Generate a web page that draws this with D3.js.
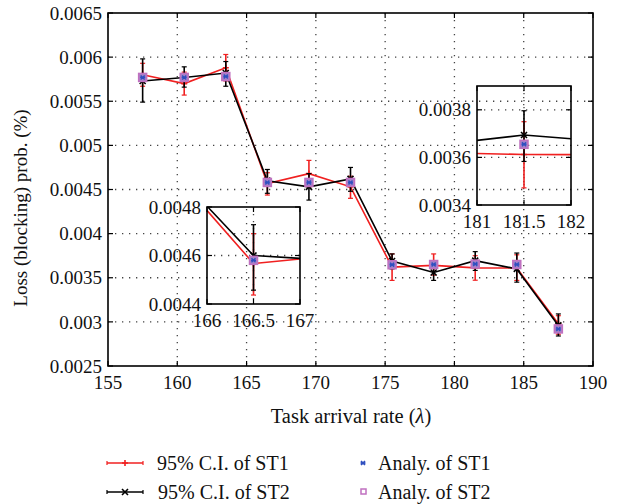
<!DOCTYPE html>
<html><head><meta charset="utf-8">
<script src="https://cdn.jsdelivr.net/npm/d3@7"></script>
<style>
body{margin:0;background:#fff;}
text{font-family:"Liberation Serif","DejaVu Serif",serif;fill:#111;}
</style></head>
<body><svg id="c" width="633" height="504"></svg>
<script>
const rates = [157.5,160.5,163.5,166.5,169.5,172.5,175.5,178.5,181.5,184.5,187.5];
const st1 = [0.0058,0.0057,0.00588,0.004567,0.00468,0.00453,0.00362,0.00364,0.003612,0.00361,0.00298];
const st1Lo = [0.00567,0.00557,0.00573,0.004437,0.00453,0.0044,0.00347,0.00353,0.003472,0.00347,0.00286];
const st1Hi = [0.00593,0.00583,0.00603,0.00469,0.00483,0.00465,0.00377,0.00377,0.00375,0.00376,0.00307];
const st2 = [0.00573,0.00577,0.00582,0.0046,0.00453,0.00462,0.00369,0.00356,0.003694,0.0036,0.00296];
const st2Lo = [0.00549,0.00566,0.00567,0.004457,0.00438,0.00448,0.0036,0.00347,0.003583,0.00345,0.00284];
const st2Hi = [0.00598,0.00589,0.00595,0.004727,0.00468,0.00475,0.00377,0.00365,0.003796,0.00378,0.00309];
const analy1 = [0.00577,0.00577,0.00578,0.00458,0.00458,0.00458,0.003647,0.00365,0.003655,0.00365,0.00292];
const analy2 = [0.00577,0.00577,0.00578,0.00458,0.00458,0.00458,0.003647,0.00365,0.003655,0.00365,0.00292];
const xTicks = [155,160,165,170,175,180,185,190];
const yTicks = [0.0025,0.003,0.0035,0.004,0.0045,0.005,0.0055,0.006,0.0065];
const inset1X = [166,166.5,167], inset1Y = [0.0044,0.0046,0.0048];
const inset2X = [181,181.5,182], inset2Y = [0.0034,0.0036,0.0038];

const RED = "#f02020", BLACK = "#000", BLUE = "#3050c0", PINK = "#c070c0";
const svg = d3.select("#c");
const fmtY = d => String(+d.toPrecision(4));
const fmtX = d => String(d);
const FS = 19;

function panel(g, x0, x1, y0, y1, xdom, ydom, xt, yt, xGrid, yGrid, id) {
  const x = d3.scaleLinear().domain(xdom).range([x0, x1]);
  const y = d3.scaleLinear().domain(ydom).range([y1, y0]);
  const gg = g.append("g").attr("stroke", "#444").attr("stroke-width", 1.3).attr("stroke-dasharray", "1.3,5.7");
  xGrid.forEach(v => gg.append("line").attr("x1", x(v)).attr("x2", x(v)).attr("y1", y0).attr("y2", y1));
  yGrid.forEach(v => gg.append("line").attr("x1", x0).attr("x2", x1).attr("y1", y(v)).attr("y2", y(v)));
  svg.append("clipPath").attr("id", id).append("rect").attr("x", x0).attr("y", y0).attr("width", x1 - x0).attr("height", y1 - y0);
  const d = g.append("g").attr("clip-path", `url(#${id})`);
  const idx = d3.range(rates.length);
  const line = arr => d3.line().x(i => x(rates[i])).y(i => y(arr[i]))(idx);
  const cap = 2.5;
  function series(vals, lo, hi, col, mk) {
    d.append("path").attr("d", line(vals)).attr("fill", "none").attr("stroke", col).attr("stroke-width", 1.6);
    idx.forEach(i => {
      const cx = x(rates[i]);
      d.append("line").attr("x1", cx).attr("x2", cx).attr("y1", y(lo[i])).attr("y2", y(hi[i])).attr("stroke", col).attr("stroke-width", 1.6);
      [lo[i], hi[i]].forEach(v => d.append("line").attr("x1", cx - cap).attr("x2", cx + cap).attr("y1", y(v)).attr("y2", y(v)).attr("stroke", col).attr("stroke-width", 1.2));
      const cy = y(vals[i]);
      d.append("path").attr("d", mk(cx, cy)).attr("stroke", col).attr("stroke-width", 1.6).attr("fill", "none");
    });
  }
  const plus = (cx, cy) => `M${cx-3},${cy}H${cx+3}M${cx},${cy-3}V${cy+3}`;
  const cross = (cx, cy) => `M${cx-3},${cy-3}L${cx+3},${cy+3}M${cx-3},${cy+3}L${cx+3},${cy-3}`;
  series(st1, st1Lo, st1Hi, RED, plus);
  series(st2, st2Lo, st2Hi, BLACK, cross);
  idx.forEach(i => {
    const cx = x(rates[i]);
    d.append("rect").attr("x", cx - 4).attr("y", y(analy2[i]) - 4).attr("width", 8).attr("height", 8)
      .attr("fill", "#a783c8").attr("stroke", PINK).attr("stroke-width", 1.5);
    const cy = y(analy1[i]);
    d.append("path").attr("d", `M${cx-2},${cy-2}L${cx+2},${cy+2}M${cx-2},${cy+2}L${cx+2},${cy-2}M${cx-2.5},${cy}H${cx+2.5}`)
      .attr("stroke", BLUE).attr("stroke-width", 1.4);
  });
  g.append("rect").attr("x", x0).attr("y", y0).attr("width", x1 - x0).attr("height", y1 - y0)
    .attr("fill", "none").attr("stroke", "#000").attr("stroke-width", 1.6);
  const tl = 5;
  const tg = g.append("g").attr("stroke", "#000").attr("stroke-width", 1.2);
  xt.forEach(v => {
    tg.append("line").attr("x1", x(v)).attr("x2", x(v)).attr("y1", y1).attr("y2", y1 - tl);
    tg.append("line").attr("x1", x(v)).attr("x2", x(v)).attr("y1", y0).attr("y2", y0 + tl);
  });
  yt.forEach(v => {
    tg.append("line").attr("x1", x0).attr("x2", x0 + tl).attr("y1", y(v)).attr("y2", y(v));
    tg.append("line").attr("x1", x1).attr("x2", x1 - tl).attr("y1", y(v)).attr("y2", y(v));
  });
  xt.forEach(v => g.append("text").attr("x", x(v)).attr("y", y1 + 23).attr("text-anchor", "middle")
    .attr("font-size", FS).text(fmtX(v)));
  yt.forEach(v => g.append("text").attr("x", x0 - 6).attr("y", y(v)).attr("dy", "0.35em").attr("text-anchor", "end")
    .attr("font-size", FS).text(fmtY(v)));
  return {x, y};
}

const main = svg.append("g");
panel(main, 108, 593, 13, 366, [155, 190], [0.0025, 0.0065], xTicks, yTicks,
  xTicks.slice(1, -1), yTicks.slice(1, -1), "clipMain");

svg.append("text").attr("x", 351).attr("y", 423).attr("text-anchor", "middle").attr("font-size", 20.5)
  .html('Task arrival rate (<tspan font-style="italic">λ</tspan>)');
svg.append("text").attr("transform", "translate(27,208) rotate(-90)").attr("text-anchor", "middle")
  .attr("font-size", 19).text("Loss (blocking) prob. (%)");

const in1 = svg.append("g");
panel(in1, 207, 300, 207, 304, [166, 167], [0.0044, 0.0048], inset1X, inset1Y, [166.5], [0.0046], "clipIn1");
const in2 = svg.append("g");
panel(in2, 477, 571, 86, 205, [181, 182], [0.0034, 0.0039], inset2X, inset2Y, [181.5], [0.0036, 0.0038], "clipIn2");

const lg = svg.append("g");
lg.append("line").attr("x1", 107).attr("x2", 143).attr("y1", 463).attr("y2", 463).attr("stroke", RED).attr("stroke-width", 1.6);
lg.append("path").attr("d", "M122,463H128M125,460V466").attr("stroke", RED).attr("stroke-width", 1.6);
[107, 143].forEach(v => lg.append("line").attr("x1", v).attr("x2", v).attr("y1", 461).attr("y2", 465).attr("stroke", RED).attr("stroke-width", 1.2));
lg.append("line").attr("x1", 107).attr("x2", 143).attr("y1", 492).attr("y2", 492).attr("stroke", BLACK).attr("stroke-width", 1.6);
lg.append("path").attr("d", "M122,489L128,495M122,495L128,489").attr("stroke", BLACK).attr("stroke-width", 1.6);
[107, 143].forEach(v => lg.append("line").attr("x1", v).attr("x2", v).attr("y1", 490).attr("y2", 494).attr("stroke", BLACK).attr("stroke-width", 1.2));
lg.append("text").attr("x", 157).attr("y", 470).attr("font-size", 20).text("95% C.I. of ST1");
lg.append("text").attr("x", 158).attr("y", 499).attr("font-size", 20).text("95% C.I. of ST2");
lg.append("path").attr("d", "M361,461L365,465M361,465L365,461M360.5,463H365.5").attr("stroke", BLUE).attr("stroke-width", 1.6);
lg.append("rect").attr("x", 361).attr("y", 489).attr("width", 5).attr("height", 5).attr("fill", "#fff").attr("stroke", PINK).attr("stroke-width", 1.5);
lg.append("text").attr("x", 378).attr("y", 470).attr("font-size", 20).text("Analy. of ST1");
lg.append("text").attr("x", 378).attr("y", 499).attr("font-size", 20).text("Analy. of ST2");
</script></body></html>
